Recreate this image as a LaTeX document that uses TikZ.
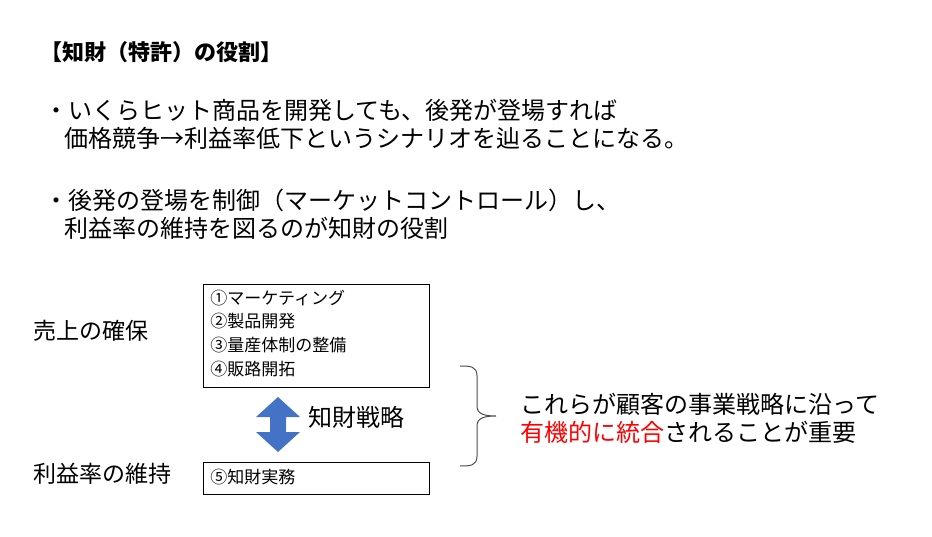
\documentclass[tikz,border=0pt]{standalone}
\usepackage{fontspec}
\setmainfont{Noto Sans CJK JP}
\usetikzlibrary{positioning}
\tikzset{every picture/.style={line width=0.75pt}}
\tikzset{
  body/.style={anchor=west,inner sep=0pt,font=\fontsize{24}{28}\selectfont},
  item/.style={anchor=west,inner sep=0pt,font=\fontsize{17}{20}\selectfont},
  listbox/.style={draw,line width=0.9pt,minimum width=226pt,anchor=north west,inner sep=0pt},
}
\definecolor{arrowblue}{RGB}{68,114,196}
\begin{document}
\begin{tikzpicture}[x=1pt,y=-1pt]
\useasboundingbox (0,0) rectangle (932,537);
%Title
\node [body,font=\bfseries\fontsize{22}{26}\selectfont] (title) at (40,52) {【知財（特許）の役割】};
%Bullets
\node [body] (b1a) at (44,110) {・いくらヒット商品を開発しても、後発が登場すれば};
\node [body] (b1b) at (64,138) {価格競争→利益率低下というシナリオを辿ることになる。};
\node [body] (b2a) at (44,200) {・後発の登場を制御（マーケットコントロール）し、};
\node [body] (b2b) at (64,228) {利益率の維持を図るのが知財の役割};
%Boxes
\node [listbox,minimum height=103pt] (box1) at (203,284) {};
\node [listbox,minimum height=32pt] (box2) at (203,462) {};
\node [item] (i1) at (210,298) {①マーケティング};
\node [item] (i2) at (210,321) {②製品開発};
\node [item] (i3) at (210,345) {③量産体制の整備};
\node [item] (i4) at (210,369) {④販路開拓};
\node [item] (i5) at (210,477) {⑤知財実務};
%Left labels
\node [body,font=\fontsize{23}{27}\selectfont] (sales) at (33,331) {売上の確保};
\node [body,font=\fontsize{23}{27}\selectfont] (margin) at (33,474) {利益率の維持};
%Double arrow
\fill [arrowblue] (278,397) -- (300,417) -- (286,417) -- (286,432) -- (300,432) -- (278,452)
  -- (256,432) -- (270,432) -- (270,417) -- (256,417) -- cycle;
\node [body,font=\fontsize{24}{28}\selectfont] (ipstrat) at (308,417) {知財戦略};
%Brace
\draw [line width=1pt,color=black!70] (460,366) .. controls (470,366) and (477,366) .. (477,376)
  -- (477,406) .. controls (477,414) and (484,416) .. (496,416)
  .. controls (484,416) and (477,418) .. (477,426) -- (477,456)
  .. controls (477,466) and (470,466) .. (460,466);
%Conclusion
\node [body] (c1) at (520,404) {これらが顧客の事業戦略に沿って};
\node [body] (c2) at (520,432) {\textcolor{red}{有機的に統合}されることが重要};
\end{tikzpicture}
\end{document}
